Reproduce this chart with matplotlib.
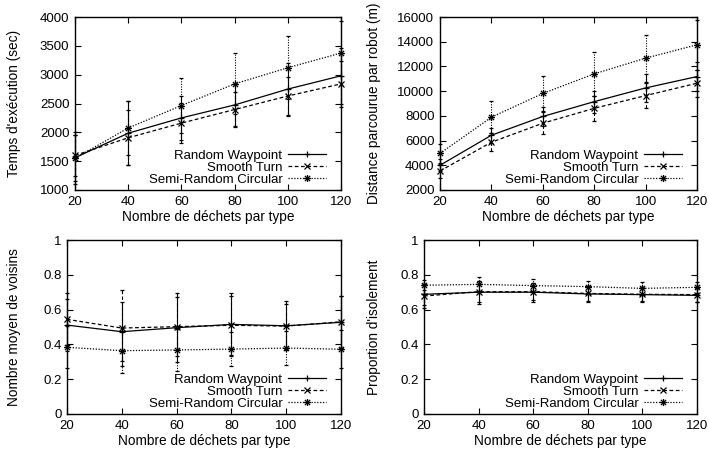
import matplotlib
matplotlib.use("Agg")
import matplotlib.pyplot as plt
from matplotlib.path import Path

plt.rcParams['font.family'] = ['Liberation Sans', 'DejaVu Sans']
plt.rcParams['font.size'] = 9.5

# data
x = [20, 40, 60, 80, 100, 120]
labels = ["Random Waypoint", "Smooth Turn", "Semi-Random Circular"]

rw_time = [1560, 1985, 2250, 2475, 2750, 2980]
st_time = [1600, 1905, 2160, 2395, 2630, 2840]
src_time = [1550, 2075, 2465, 2840, 3120, 3375]
rw_time_err = [400, 550, 380, 370, 460, 490]
st_time_err = [350, 480, 350, 300, 330, 400]
src_time_err = [450, 470, 470, 530, 545, 560]

rw_dist = [4000, 6430, 7950, 9150, 10260, 11180]
st_dist = [3540, 5865, 7405, 8610, 9640, 10640]
src_dist = [4960, 7890, 9810, 11400, 12670, 13750]
rw_dist_err = [500, 600, 750, 900, 1150, 1200]
st_dist_err = [600, 730, 870, 1000, 1000, 1100]
src_dist_err = [800, 1300, 1400, 1760, 1900, 2000]

rw_vois = [0.511, 0.473, 0.496, 0.515, 0.507, 0.527]
st_vois = [0.544, 0.494, 0.502, 0.510, 0.505, 0.530]
src_vois = [0.383, 0.364, 0.368, 0.373, 0.379, 0.372]
rw_vois_err = [0.15, 0.17, 0.20, 0.18, 0.14, 0.15]
st_vois_err = [0.15, 0.22, 0.17, 0.17, 0.13, 0.15]
src_vois_err = [0.12, 0.13, 0.12, 0.10, 0.10, 0.11]

rw_iso = [0.688, 0.700, 0.700, 0.690, 0.686, 0.682]
st_iso = [0.678, 0.703, 0.703, 0.693, 0.688, 0.686]
src_iso = [0.740, 0.745, 0.738, 0.732, 0.722, 0.728]
rw_iso_err = [0.06, 0.065, 0.055, 0.045, 0.04, 0.04]
st_iso_err = [0.07, 0.06, 0.05, 0.045, 0.04, 0.04]
src_iso_err = [0.03, 0.04, 0.035, 0.035, 0.035, 0.03]

# gnuplot-like asterisk (plus + cross)
d = 0.75
star = Path([(-1, 0), (1, 0), (0, -1), (0, 1), (-d, -d), (d, d), (-d, d), (d, -d)],
            [Path.MOVETO, Path.LINETO] * 4)

styles = [
    dict(ls='-', marker='+', dashes=None),
    dict(ls='--', marker='x', dashes=(3, 2)),
    dict(ls=':', marker=star, dashes=(1, 1.3)),
]

W, H = 709, 449
fig = plt.figure(figsize=(W / 100, H / 100), dpi=100)


def add_ax(l, r, t, b):
    return fig.add_axes([l / W, 1 - b / H, (r - l) / W, (b - t) / H])


# (left, right, top, bottom) in pixels, ylabel centre x in pixels
boxes = [(75, 341, 17, 190, 15), (440, 697, 17, 190, 375),
         (67, 341, 240, 414, 15), (424, 697, 240, 414, 375)]

panels = [
    ([rw_time, st_time, src_time], [rw_time_err, st_time_err, src_time_err],
     (1000, 4000), range(1000, 4001, 500), "Temps d'exécution (sec)", None),
    ([rw_dist, st_dist, src_dist], [rw_dist_err, st_dist_err, src_dist_err],
     (2000, 16000), range(2000, 16001, 2000), "Distance parcourue par robot (m)", None),
    ([rw_vois, st_vois, src_vois], [rw_vois_err, st_vois_err, src_vois_err],
     (0, 1), [0, 0.2, 0.4, 0.6, 0.8, 1], "Nombre moyen de voisins",
     ['0', '0.2', '0.4', '0.6', '0.8', '1']),
    ([rw_iso, st_iso, src_iso], [rw_iso_err, st_iso_err, src_iso_err],
     (0, 1), [0, 0.2, 0.4, 0.6, 0.8, 1], "Proportion d'isolement",
     ['0', '0.2', '0.4', '0.6', '0.8', '1']),
]

for (l, r, t, b, ylx), (series, errs, ylim, yticks, ylabel, ytl) in zip(boxes, panels):
    ax = add_ax(l, r, t, b)
    wpx, hpx = r - l, b - t
    handles = []
    for vals, err, st, lab in zip(series, errs, styles, labels):
        eb = ax.errorbar(x, vals, yerr=err, color='black', lw=0.9, ls=st['ls'],
                         marker=st['marker'], ms=5, mew=0.9, mfc='none',
                         capsize=1.5, capthick=0.8, elinewidth=0.8, clip_on=False)
        line = eb[0]
        if st['dashes']:
            line.set_dashes(st['dashes'])
            eb[2][0].set_linestyle((0, st['dashes']))
        handles.append(line)
    ax.set_xlim(20, 120)
    ax.set_ylim(*ylim)
    ax.set_xticks(x)
    ax.set_yticks(list(yticks))
    if ytl:
        ax.set_yticklabels(ytl)
    ax.tick_params(direction='in', top=True, right=True, length=4, width=0.8,
                   labelsize=9.5, pad=4)
    for sp in ax.spines.values():
        sp.set_linewidth(1.0)
    ax.set_xlabel("Nombre de déchets par type", fontsize=9.8, labelpad=2)
    ax.set_ylabel(ylabel, fontsize=9.8)
    ax.yaxis.set_label_coords((ylx + 6 - l) / wpx, 0.5)
    ax.legend(handles, labels, loc='lower right', frameon=False,
              bbox_to_anchor=(1 - 15 / wpx, 4 / hpx),
              markerfirst=False, handlelength=2.9, handletextpad=0.4,
              labelspacing=0.0, borderaxespad=0, borderpad=0, fontsize=9.5)

fig.savefig("out.png", dpi=100)
